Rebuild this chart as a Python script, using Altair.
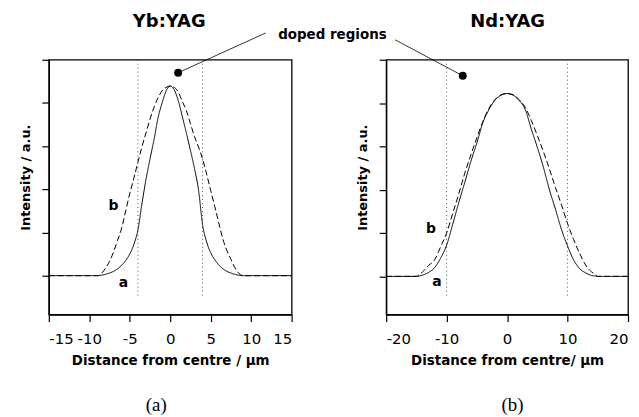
import altair as alt
import pandas as pd

# ---------------- data ----------------
# Yb:YAG panel
yb_x = [-15, -12, -9, -8.5, -8, -7.5, -7, -6.5, -6, -5.5, -5, -4.5, -4, -3.5, -3, -2.5, -2, -1.5, -1, -0.5,
        0, 0.5, 1, 1.5, 2, 2.5, 3, 3.5, 4, 4.5, 5, 5.5, 6, 6.5, 7, 7.5, 8, 8.5, 9, 12, 15]
yb_a = [0, 0, 0, 0.01, 0.03, 0.06, 0.10, 0.16, 0.24, 0.35, 0.50, 0.72, 1.05, 1.66, 2.22, 2.70, 3.15, 3.66, 4.00, 4.28,
        4.39, 4.30, 4.05, 3.68, 3.30, 2.90, 2.48, 1.98, 1.18, 0.78, 0.53, 0.37, 0.25, 0.16, 0.10, 0.06, 0.03, 0.01, 0, 0, 0]
yb_b = [0, 0, 0, 0.05, 0.17, 0.33, 0.55, 0.82, 1.10, 1.50, 1.90, 2.25, 2.62, 2.98, 3.30, 3.62, 3.90, 4.12, 4.28, 4.36,
        4.39, 4.36, 4.25, 4.03, 3.82, 3.52, 3.22, 2.98, 2.70, 2.35, 1.97, 1.60, 1.22, 0.85, 0.58, 0.38, 0.18, 0.05, 0, 0, 0]

# Nd:YAG panel
nd_x = [-20, -17, -15, -14.5, -14, -13, -12, -11, -10, -9, -8, -7, -6, -5, -4, -3, -2, -1,
        0, 1, 2, 3, 4, 5, 6, 7, 8, 9, 10, 11, 12, 13, 14, 14.5, 15, 17, 20]
nd_a = [0, 0, 0, 0.01, 0.03, 0.09, 0.20, 0.42, 0.72, 1.20, 1.70, 2.17, 2.65, 3.08, 3.55, 3.85, 4.07, 4.18,
        4.22, 4.18, 4.06, 3.85, 3.40, 2.98, 2.52, 2.00, 1.55, 1.08, 0.70, 0.38, 0.18, 0.08, 0.02, 0.01, 0, 0, 0]
nd_b = [0, 0, 0, 0.05, 0.10, 0.25, 0.38, 0.68, 1.00, 1.45, 1.90, 2.38, 2.80, 3.20, 3.58, 3.88, 4.08, 4.19,
        4.22, 4.19, 4.08, 3.90, 3.60, 3.25, 2.88, 2.48, 2.05, 1.65, 1.22, 0.85, 0.53, 0.26, 0.10, 0.05, 0, 0, 0]

# doped-region boundaries (x)
yb_doped = [-4, 4]
nd_doped = [-10, 10]

FONT = "DejaVu Sans"


def panel(xs, a, b, xdom, ydom, xticks, title, xtitle, width,
          doped, dot_low, labels, dot, line, letter, title_pos, extra_text=None):
    n = len(xs)
    df = pd.DataFrame({"x": xs + xs, "y": a + b, "curve": ["a"] * n + ["b"] * n})
    xsc = alt.Scale(domain=xdom, nice=False, zero=False)
    ysc = alt.Scale(domain=ydom, nice=False, zero=False)
    xax = alt.Axis(values=xticks, title=xtitle, grid=False, tickSize=7, tickColor="black",
                   domainColor="black", domainWidth=1.3, tickWidth=1.2, labelOverlap=False,
                   labelExpr="'' + datum.value",
                   labelFont=FONT, labelFontSize=15, labelColor="black", labelPadding=10,
                   titleFont=FONT, titleFontSize=13.5, titleFontWeight="bold", titleColor="black",
                   titlePadding=7)
    yax = alt.Axis(values=[0, 1, 2, 3, 4, 5], labels=False, title="Intensity / a.u.", grid=False,
                   tickSize=7, tickColor="black", domainColor="black", domainWidth=1.3, tickWidth=1.2,
                   titleFont=FONT, titleFontSize=13, titleFontWeight="bold", titleColor="black",
                   titlePadding=9, titleY=118)
    X = lambda f: alt.X(f, type="quantitative", scale=xsc, axis=xax)
    Y = lambda f: alt.Y(f, type="quantitative", scale=ysc, axis=yax)

    curves = alt.Chart(df).mark_line(color="black", strokeWidth=1, interpolate="monotone").encode(
        x=X("x"), y=Y("y"),
        strokeDash=alt.StrokeDash("curve:N", scale=alt.Scale(domain=["a", "b"], range=[[1, 0], [6, 3]]),
                                  legend=None),
        detail="curve:N",
    )

    ddf = pd.DataFrame({"x": doped, "top": [ydom[1]] * 2, "low": [dot_low] * 2})
    dotted = alt.Chart(ddf).mark_rule(color="#555555", strokeWidth=1, strokeDash=[1, 3]).encode(
        x=X("x"), y=Y("top"), y2="low:Q")

    ldf = pd.DataFrame({"x": [labels[0][0], labels[1][0]], "y": [labels[0][1], labels[1][1]], "t": ["a", "b"]})
    lab = alt.Chart(ldf).mark_text(font=FONT, fontSize=14, fontWeight="bold", color="black",
                                   baseline="middle", align="center").encode(x=X("x"), y=Y("y"), text="t:N")

    pdf = pd.DataFrame({"x": [dot[0]], "y": [dot[1]]})
    pt = alt.Chart(pdf).mark_circle(color="black", size=64, opacity=1).encode(x=X("x"), y=Y("y"))

    rdf = pd.DataFrame({"x": [line[0]], "y": [line[1]], "x2": [line[2]], "y2": [line[3]]})
    rl = alt.Chart(rdf).mark_rule(color="black", strokeWidth=0.8).encode(
        x=X("x"), y=Y("y"), x2="x2:Q", y2="y2:Q")

    tdf = pd.DataFrame({"x": [letter[0]], "y": [letter[1]], "t": [letter[2]]})
    let = alt.Chart(tdf).mark_text(font="Liberation Serif", fontSize=19, color="black",
                                   baseline="middle", align="center").encode(x=X("x"), y=Y("y"), text="t:N")

    hdf = pd.DataFrame({"x": [title_pos[0]], "y": [title_pos[1]], "t": [title]})
    head = alt.Chart(hdf).mark_text(font=FONT, fontSize=18, fontWeight="bold", color="black",
                                    baseline="alphabetic", align="center").encode(x=X("x"), y=Y("y"), text="t:N")

    layers = [dotted, curves, lab, rl, pt, let, head]
    if extra_text is not None:
        edf = pd.DataFrame({"x": [extra_text[0]], "y": [extra_text[1]], "t": [extra_text[2]]})
        layers.append(alt.Chart(edf).mark_text(font=FONT, fontSize=13.5, fontWeight="bold", color="black",
                                               baseline="alphabetic", align="center").encode(
            x=X("x"), y=Y("y"), text="t:N"))

    return alt.layer(*layers).properties(width=width, height=256)


left = panel(yb_x, yb_a, yb_b, [-15, 15], [-0.9, 5], [-15, -10, -5, 0, 5, 10, 15], "Yb:YAG",
             "Distance from centre / µm", 244, yb_doped, -0.46,
             labels=[(-5.78, -0.18), (-7.0, 1.61)], dot=(0.98, 4.70), line=(0.98, 4.70, 11.8, 5.62),
             letter=(-1.72, -3.0, "(a)"), title_pos=(-0.12, 5.76),
             extra_text=(20.04, 5.49, "doped regions"))
right = panel(nd_x, nd_a, nd_b, [-20, 20], [-0.88, 5], [-20, -10, 0, 10, 20], "Nd:YAG",
              "Distance from centre/ µm", 243, nd_doped, -0.49,
              labels=[(-11.6, -0.12), (-12.6, 1.10)], dot=(-7.33, 4.63), line=(-18.52, 5.46, -7.33, 4.63),
              letter=(0.9, -2.97, "(b)"), title_pos=(0.08, 5.76))

chart = alt.hconcat(left, right, spacing=95, bounds="flush").configure_view(
    stroke="black", strokeWidth=1.3
).properties(padding={"left": 10, "top": 3, "right": 0, "bottom": 0}, background="white")

chart.save("out.html", embed_options={"renderer": "svg", "actions": False})
